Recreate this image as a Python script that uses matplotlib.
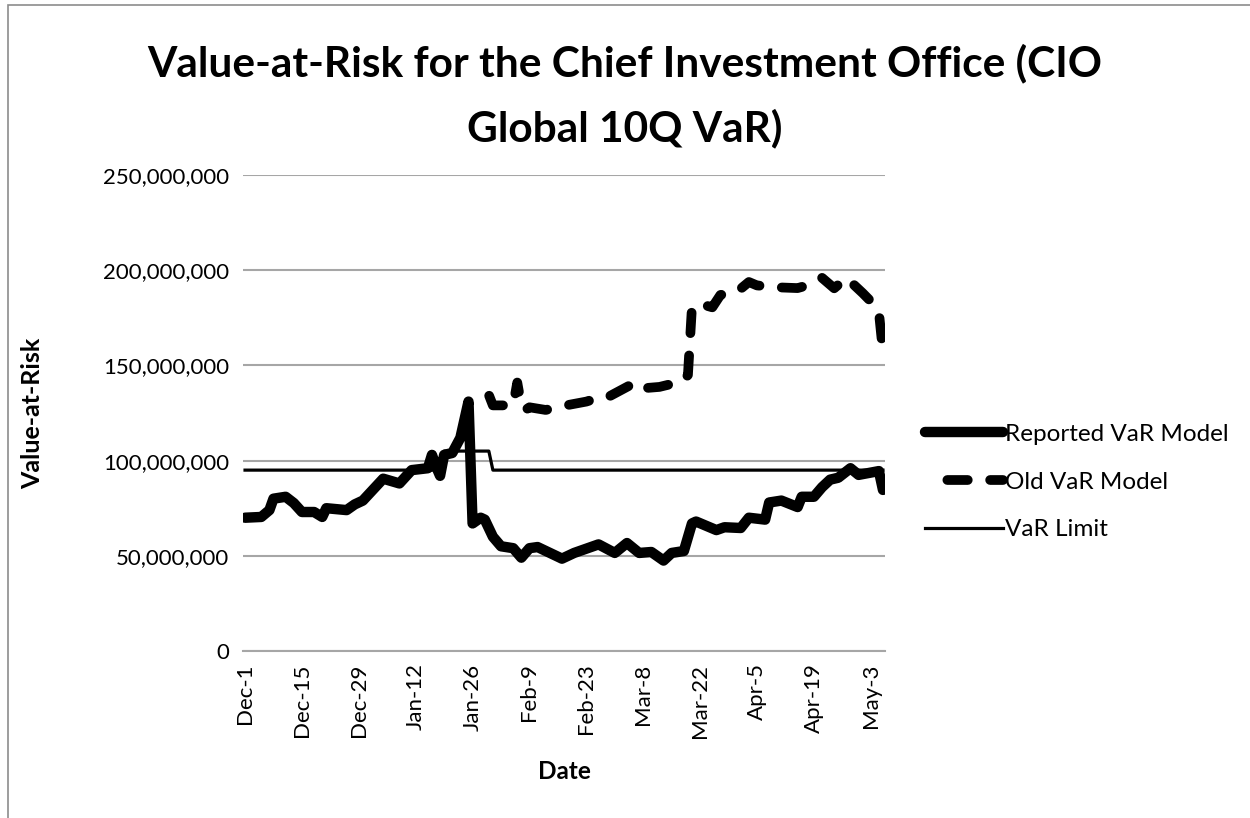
import pandas as pd
import matplotlib.pyplot as plt
from matplotlib.patches import Rectangle
from matplotlib.ticker import FuncFormatter

plt.rcParams['font.family'] = ['Lato', 'DejaVu Sans']

# values, in millions of USD
reported_dates = ['2011-12-01', '2011-12-05', '2011-12-07', '2011-12-08', '2011-12-11',
                  '2011-12-13', '2011-12-15', '2011-12-18', '2011-12-20', '2011-12-21',
                  '2011-12-26', '2011-12-28', '2011-12-30', '2012-01-04', '2012-01-08',
                  '2012-01-11', '2012-01-15', '2012-01-16', '2012-01-17', '2012-01-18',
                  '2012-01-19', '2012-01-21', '2012-01-23', '2012-01-25', '2012-01-26',
                  '2012-01-28', '2012-01-29', '2012-01-31', '2012-02-02', '2012-02-05',
                  '2012-02-07', '2012-02-09', '2012-02-11', '2012-02-17', '2012-02-20',
                  '2012-02-26', '2012-03-01', '2012-03-04', '2012-03-07', '2012-03-10',
                  '2012-03-13', '2012-03-15', '2012-03-18', '2012-03-20', '2012-03-21',
                  '2012-03-26', '2012-03-28', '2012-04-01', '2012-04-03', '2012-04-07',
                  '2012-04-08', '2012-04-11', '2012-04-15', '2012-04-16', '2012-04-19',
                  '2012-04-21', '2012-04-23', '2012-04-25', '2012-04-28', '2012-04-30',
                  '2012-05-05', '2012-05-06']
reported_var = [70, 70.4, 74, 80, 81,
                77.7, 73, 73, 70.4, 75,
                74, 77, 79, 90.5, 88,
                95, 96, 103, 97, 92,
                103, 104, 112, 131, 67,
                70, 69, 60, 55, 54,
                49, 54, 54.6, 48.5, 51.5,
                56, 51.5, 56.7, 51.5, 52,
                47.5, 51.5, 52.5, 67, 68,
                63.5, 65, 64.6, 70, 69,
                78, 79, 75.6, 81, 81,
                86, 90, 91, 96, 92.5,
                94.5, 84.6]

old_dates = ['2012-01-25', '2012-01-26', '2012-01-28', '2012-01-30', '2012-01-31',
             '2012-02-02', '2012-02-05', '2012-02-06', '2012-02-07', '2012-02-08',
             '2012-02-09', '2012-02-13', '2012-02-18', '2012-02-23', '2012-02-26',
             '2012-02-28', '2012-03-04', '2012-03-06', '2012-03-08', '2012-03-12',
             '2012-03-17', '2012-03-18', '2012-03-19', '2012-03-20', '2012-03-23',
             '2012-03-25', '2012-03-27', '2012-03-31', '2012-04-03', '2012-04-05',
             '2012-04-10', '2012-04-15', '2012-04-19', '2012-04-21', '2012-04-24',
             '2012-04-27', '2012-05-01', '2012-05-04', '2012-05-05', '2012-05-06']
old_var = [131, 132, 133, 134.5, 129,
           129, 129, 141, 129, 126.6,
           128, 126.6, 129, 131, 133,
           133, 138.7, 141, 138, 138.7,
           141.3, 142, 145, 181, 181.7,
           180.5, 187, 188.5, 193.8, 192,
           191, 190.6, 193, 196, 190.5,
           196, 188, 181.5, 178, 157]

limit_dates = ['2011-12-01', '2012-01-18', '2012-01-19', '2012-01-30', '2012-01-31', '2012-05-06']
limit_var = [95, 95, 105, 105, 95, 95]

tick_dates = ['2011-12-01', '2011-12-15', '2011-12-29', '2012-01-12', '2012-01-26', '2012-02-09',
              '2012-02-23', '2012-03-08', '2012-03-22', '2012-04-05', '2012-04-19', '2012-05-03']
tick_labels = ['Dec-1', 'Dec-15', 'Dec-29', 'Jan-12', 'Jan-26', 'Feb-9',
               'Feb-23', 'Mar-8', 'Mar-22', 'Apr-5', 'Apr-19', 'May-3']

rep_x = pd.to_datetime(reported_dates)
old_x = pd.to_datetime(old_dates)
lim_x = pd.to_datetime(limit_dates)

fig = plt.figure(figsize=(12.5, 8.18), dpi=100)
ax = fig.add_axes([243 / 1250, 1 - 651 / 818, 642 / 1250, 476 / 818])

# chart area border (only top and left edges visible)
fig.patches.append(Rectangle((8 / 1250, -0.5), 2, 1.5 - 5 / 818, transform=fig.transFigure,
                             fill=False, edgecolor='#8c8c8c', linewidth=1.2))

ax.plot(rep_x, [v * 1e6 for v in reported_var], color='black', lw=7.5,
        solid_capstyle='round', solid_joinstyle='round', label='Reported VaR Model', zorder=3)
ax.plot(old_x, [v * 1e6 for v in old_var], color='black', lw=7,
        linestyle=(2.1, (2.1, 2.3)), dash_capstyle='round', dash_joinstyle='round',
        label='Old VaR Model', zorder=4)
ax.plot(lim_x, [v * 1e6 for v in limit_var], color='black', lw=2.3,
        label='VaR Limit', zorder=2)

start = pd.Timestamp('2011-12-01')
ax.set_xlim(start - pd.Timedelta(hours=12), pd.Timestamp('2012-05-06') + pd.Timedelta(hours=12))
ax.set_ylim(0, 250e6)
ax.set_yticks([0, 50e6, 100e6, 150e6, 200e6, 250e6])
ax.yaxis.set_major_formatter(FuncFormatter(lambda v, p: f'{v:,.0f}'))
ax.set_xticks(pd.to_datetime(tick_dates))
ax.set_xticklabels(tick_labels, rotation=90)
ax.tick_params(axis='both', length=0, labelsize=16)
ax.tick_params(axis='x', pad=9)
ax.tick_params(axis='y', pad=10)

ax.grid(axis='y', color='#a6a6a6', linewidth=1.5)
ax.set_axisbelow(True)
for s in ['top', 'right', 'left']:
    ax.spines[s].set_visible(False)
ax.spines['bottom'].set_color('#a6a6a6')
ax.spines['bottom'].set_linewidth(1.5)

ax.set_ylabel('Value-at-Risk', fontsize=18, fontweight='bold')
ax.yaxis.set_label_coords(-0.31, 0.5)
ax.set_xlabel('Date', fontsize=17.5, fontweight='bold')
ax.xaxis.set_label_coords(0.5, -0.228)

fig.text(0.5, 1 - 96 / 818, 'Value-at-Risk for the Chief Investment Office (CIO\nGlobal 10Q VaR)',
         ha='center', va='center', fontsize=30.5, fontweight='bold', linespacing=1.75)

ax.legend(loc='center left', bbox_to_anchor=(915 / 1250, 1 - 482 / 818),
          bbox_transform=fig.transFigure, frameon=False, fontsize=17.5,
          handlelength=3.2, handletextpad=0.1, labelspacing=1.1, borderaxespad=0)

fig.savefig('out.png', dpi=100)
